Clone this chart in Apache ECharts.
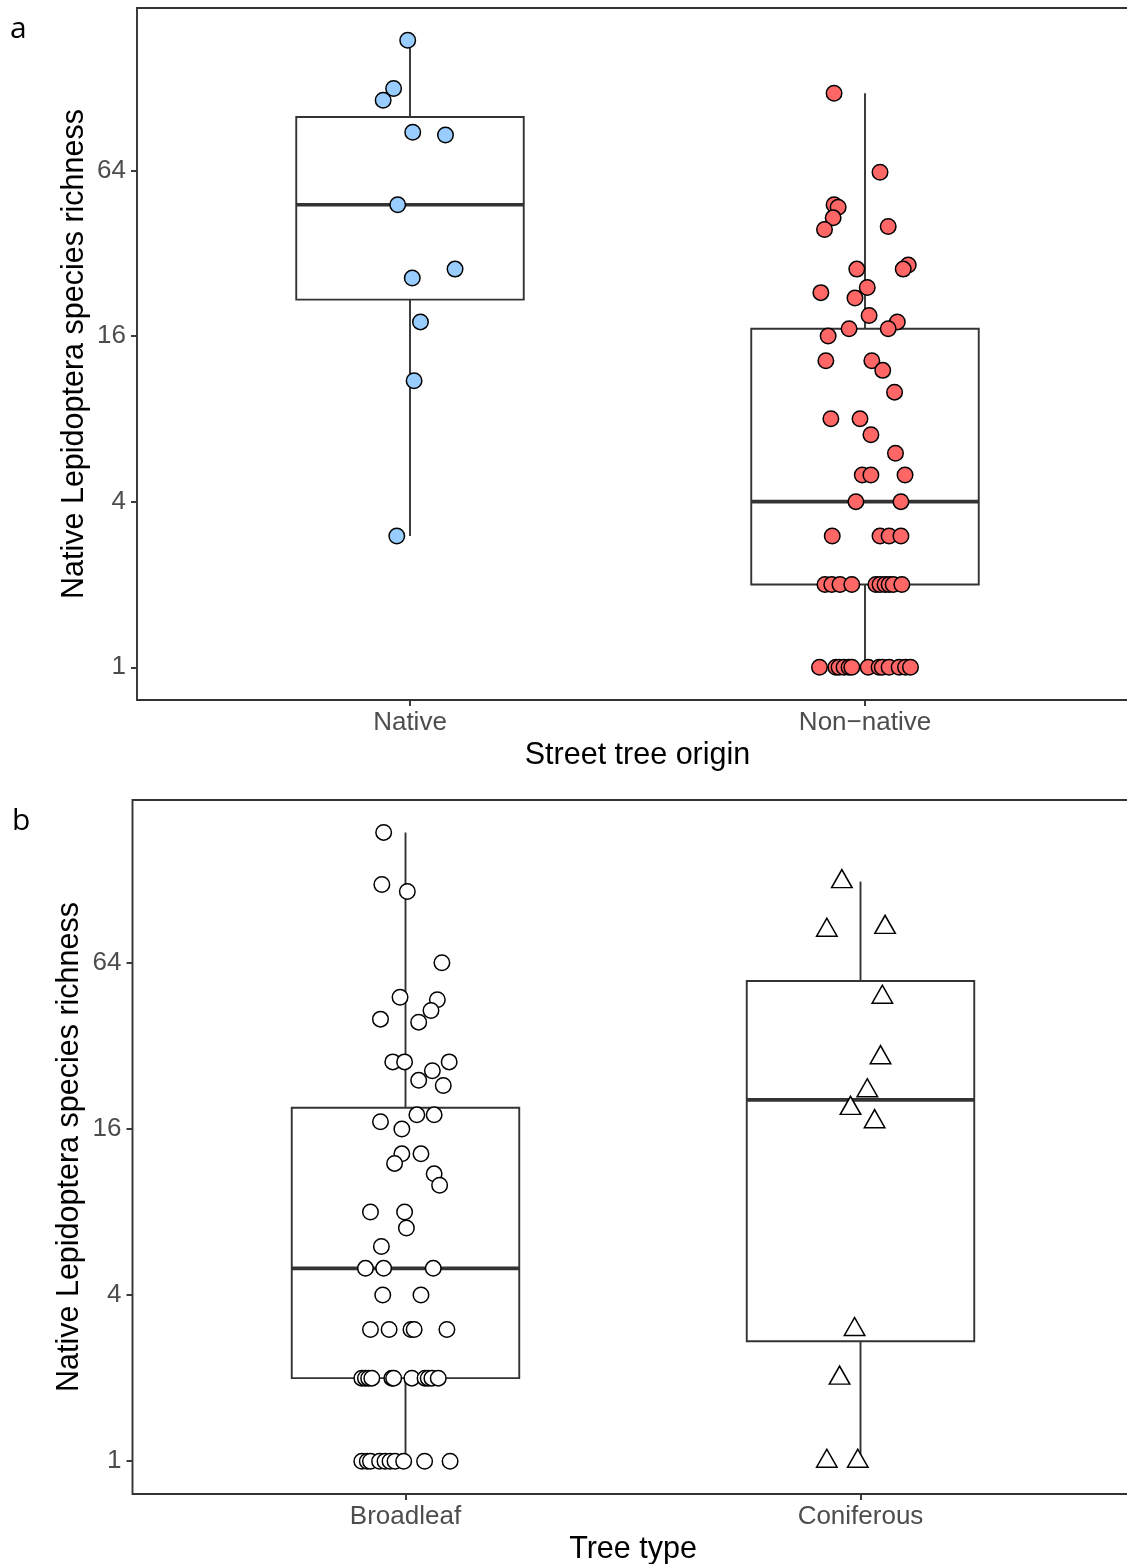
<!DOCTYPE html>
<html>
<head>
<meta charset="utf-8">
<script src="https://cdn.jsdelivr.net/npm/echarts@6.0.0/dist/echarts.min.js"></script>
<style>
  html, body { margin: 0; padding: 0; background: #fff; }
  #chart { width: 1127px; height: 1564px; }
</style>
</head>
<body>
<div id="chart"></div>
<script>
// categories and ticks
const originCategories = ['Native', 'Non\u2212native']
const typeCategories = ['Broadleaf', 'Coniferous']
const yTicks = [1, 4, 16, 64]

// box stats: [min, q1, median, q3, max]
const nativeBox = [3, 21.7, 48, 100, 190]
const nonNativeBox = [1, 2, 4, 17, 122]
const broadleafBox = [1, 2, 5, 19.1, 190]
const coniferousBox = [1, 2.72, 20.4, 55, 126]

// points: species richness and horizontal jitter (category units)
const nativeValues = [190, 127, 115, 88, 86, 48, 28, 26, 18, 11, 3]
const nativeJitter = [-0.005, -0.036, -0.059, 0.006, 0.078, -0.027, 0.099, 0.005, 0.023, 0.009, -0.029]

const nonNativeValues = [122, 63, 48, 47, 43, 39, 40, 28, 29, 28, 23, 24, 22, 19, 18, 17, 17, 16, 13, 13, 12, 10,
  8, 8, 7, 6, 5, 5, 5, 4, 4, 3, 3, 3, 3,
  2, 2, 2, 2, 2, 2, 2, 2, 2, 2,
  1, 1, 1, 1, 1, 1, 1, 1, 1, 1, 1, 1, 1]
const nonNativeJitter = [-0.068, 0.033, -0.068, -0.059, -0.070, -0.089, 0.051, -0.018, 0.095, 0.084, -0.097, 0.005,
  -0.022, 0.009, 0.071, -0.035, 0.051, -0.081, -0.086, 0.015, 0.039, 0.065,
  -0.075, -0.011, 0.013, 0.067, -0.006, 0.013, 0.088, -0.020, 0.079, -0.072, 0.033, 0.053, 0.079,
  -0.088, -0.073, -0.055, -0.029, 0.024, 0.033, 0.044, 0.053, 0.062, 0.081,
  -0.100, -0.064, -0.057, -0.046, -0.035, -0.029, 0.007, 0.031, 0.038, 0.053, 0.075, 0.089, 0.100]

const broadleafValues = [190, 123, 116, 64, 48, 47, 43, 40, 39, 28, 28, 28, 26, 24, 23, 18, 18, 17, 16, 13, 13, 12, 11, 10,
  8, 8, 7, 6, 5, 5, 5, 4, 4, 3, 3, 3, 3, 3,
  2, 2, 2, 2, 2, 2, 2, 2, 2, 2, 2,
  1, 1, 1, 1, 1, 1, 1, 1, 1, 1]
const broadleafJitter = [-0.048, -0.052, 0.004, 0.080, -0.012, 0.070, 0.056, -0.055, 0.029, -0.028, -0.002, 0.096,
  0.059, 0.029, 0.083, 0.025, 0.063, -0.055, -0.008, -0.008, 0.034, -0.024, 0.063, 0.075,
  -0.077, -0.002, 0.002, -0.053, -0.088, -0.048, 0.061, -0.050, 0.034, -0.077, -0.036, 0.012, 0.019, 0.091,
  -0.096, -0.088, -0.081, -0.074, -0.030, -0.026, 0.014, 0.043, 0.050, 0.058, 0.072,
  -0.096, -0.084, -0.077, -0.057, -0.045, -0.034, -0.023, -0.004, 0.042, 0.098]

const coniferousValues = [126, 84, 86, 48, 29, 22, 19, 17, 3, 2, 1, 1]
const coniferousJitter = [-0.041, -0.074, 0.054, 0.048, 0.044, 0.015, -0.022, 0.031, -0.013, -0.046, -0.074, -0.006]

const FONT = '"Liberation Sans", Arial, sans-serif'
const INK = '#333333'

const points = (pos, values, jitter) => values.map((v, i) => [pos + jitter[i], v])

const renderBox = (params, api) => {
  const x = api.value(0)
  const half = 0.25
  const lo = api.coord([x, api.value(1)])
  const q1 = api.coord([x, api.value(2)])
  const q3 = api.coord([x, api.value(4)])
  const hi = api.coord([x, api.value(5)])
  const q1L = api.coord([x - half, api.value(2)])
  const q1R = api.coord([x + half, api.value(2)])
  const q3L = api.coord([x - half, api.value(4)])
  const medL = api.coord([x - half, api.value(3)])
  const medR = api.coord([x + half, api.value(3)])
  const thin = { stroke: INK, lineWidth: 1.9 }
  return {
    type: 'group',
    children: [
      { type: 'line', shape: { x1: lo[0], y1: lo[1], x2: q1[0], y2: q1[1] }, style: thin },
      { type: 'line', shape: { x1: q3[0], y1: q3[1], x2: hi[0], y2: hi[1] }, style: thin },
      { type: 'rect', shape: { x: q3L[0], y: q3L[1], width: q1R[0] - q1L[0], height: q1L[1] - q3L[1] },
        style: { fill: '#fff', stroke: INK, lineWidth: 1.9 } },
      { type: 'line', shape: { x1: medL[0], y1: medL[1], x2: medR[0], y2: medR[1] },
        style: { stroke: INK, lineWidth: 3.6 } }
    ]
  }
}

const makeX = (gridIndex, cats, title) => ({
  type: 'value', gridIndex, min: 0.4, max: 2.6,
  name: title, nameLocation: 'middle', nameGap: 40,
  nameTextStyle: { fontSize: 30.5, color: '#000', fontFamily: FONT },
  axisLine: { show: false },
  splitLine: { show: false },
  axisTick: { show: true, customValues: [1, 2], length: 6, lineStyle: { color: INK, width: 1.9 } },
  axisLabel: { customValues: [1, 2], margin: 10, fontSize: 26, color: '#4D4D4D', fontFamily: FONT,
    formatter: v => cats[Math.round(v) - 1] }
})

const makeY = (gridIndex) => ({
  type: 'log', logBase: 2, gridIndex, min: 0.7606, max: 249,
  name: 'Native Lepidoptera species richness', nameLocation: 'middle', nameGap: 47,
  nameMoveOverlap: false,
  nameTextStyle: { fontSize: 30.5, color: '#000', fontFamily: FONT },
  axisLine: { show: false },
  splitLine: { show: false },
  minorTick: { show: false },
  axisTick: { show: true, customValues: yTicks, length: 6, lineStyle: { color: INK, width: 1.9 } },
  axisLabel: { customValues: yTicks, margin: 11, fontSize: 26, color: '#4D4D4D', fontFamily: FONT }
})

const circle = (xi, data, fill) => ({
  type: 'scatter', xAxisIndex: xi, yAxisIndex: xi, data,
  symbol: 'circle', symbolSize: 15.5,
  itemStyle: { color: fill, borderColor: '#000', borderWidth: 1.5, opacity: 1 },
  emphasis: { disabled: true }, z: 3
})

const chart = echarts.init(document.getElementById('chart'), null, { renderer: 'canvas' })
chart.setOption({
  animation: false,
  backgroundColor: '#fff',
  grid: [
    { left: 137, top: 8, width: 1001, height: 692, show: true, borderColor: INK, borderWidth: 1.9,
      backgroundColor: 'transparent', containLabel: false, outerBoundsMode: 'none' },
    { left: 132.5, top: 800, width: 1001, height: 694, show: true, borderColor: INK, borderWidth: 1.9,
      backgroundColor: 'transparent', containLabel: false, outerBoundsMode: 'none' }
  ],
  xAxis: [makeX(0, originCategories, 'Street tree origin'), makeX(1, typeCategories, 'Tree type')],
  yAxis: [makeY(0), makeY(1)],
  graphic: [
    { type: 'text', left: 10, top: 14, style: { text: 'a', fontSize: 30, fill: '#000', fontFamily: '"Open Sans", sans-serif' } },
    { type: 'text', left: 12, top: 806, style: { text: 'b', fontSize: 30, fill: '#000', fontFamily: '"Open Sans", sans-serif' } }
  ],
  series: [
    { type: 'custom', xAxisIndex: 0, yAxisIndex: 0, renderItem: renderBox, clip: false, z: 2,
      encode: { x: 0, y: [1, 2, 3, 4, 5] },
      data: [[1, ...nativeBox], [2, ...nonNativeBox]] },
    { type: 'custom', xAxisIndex: 1, yAxisIndex: 1, renderItem: renderBox, clip: false, z: 2,
      encode: { x: 0, y: [1, 2, 3, 4, 5] },
      data: [[1, ...broadleafBox], [2, ...coniferousBox]] },
    circle(0, points(1, nativeValues, nativeJitter), '#99CCFF'),
    circle(0, points(2, nonNativeValues, nonNativeJitter), '#FF6666'),
    circle(1, points(1, broadleafValues, broadleafJitter), '#FFFFFF'),
    {
      type: 'scatter', xAxisIndex: 1, yAxisIndex: 1,
      data: points(2, coniferousValues, coniferousJitter),
      symbol: 'triangle', symbolSize: [20.5, 18], symbolOffset: [0, -3],
      itemStyle: { color: '#FFFFFF', borderColor: '#000', borderWidth: 1.5, opacity: 1 },
      emphasis: { disabled: true }, z: 3
    }
  ]
})
</script>
</body>
</html>
